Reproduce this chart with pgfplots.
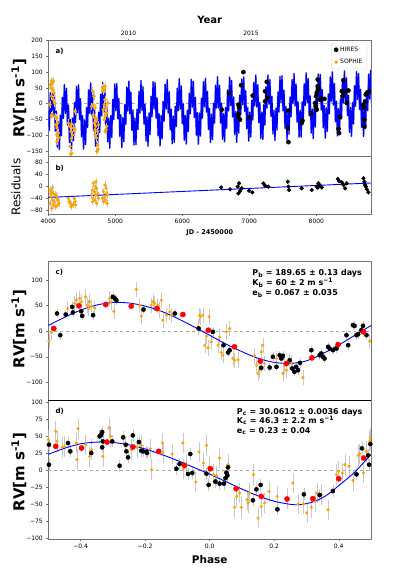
\documentclass[border=0pt]{standalone}
\usepackage{fontspec}
\setmainfont{DejaVu Sans}
\usepackage{pgfplots}
\usepackage{pgfplotstable}
\pgfplotsset{compat=1.18}

\definecolor{mplorange}{HTML}{FFA500}
\definecolor{mplblue}{HTML}{0000FF}
\definecolor{mplred}{HTML}{FF0000}
\definecolor{errgray}{HTML}{C8C8C8}

% two-planet model + trend, sampled at each half period of planet c
\pgfplotstableread{
t v
4000 -22.5
4015 -85.3
4030 34.4
4045 -38.0
4060 60.6
4075 -39.2
4090 32.5
4105 -87.4
4120 -24.0
4135 -138.4
4150 -57.0
4165 -145.4
4180 -36.2
4195 -101.8
4210 19.7
4225 -47.0
4240 60.0
4256 -30.9
4271 48.2
4286 -67.7
4301 -4.7
4316 -123.7
4331 -50.1
4346 -147.5
4361 -46.3
4376 -117.1
4391 3.4
4406 -59.9
4421 54.1
4436 -27.9
4451 59.7
4466 -50.0
4481 15.4
4496 -105.8
4511 -38.1
4526 -144.0
4541 -51.7
4556 -129.6
4571 -12.7
4586 -75.4
4601 43.5
4616 -30.6
4631 66.0
4646 -35.8
4661 34.5
4676 -86.0
4691 -22.1
4706 -135.1
4721 -51.7
4736 -138.0
4752 -27.1
4767 -91.8
4782 29.5
4797 -38.4
4812 66.8
4827 -26.2
4842 51.0
4857 -66.1
4872 -3.2
4887 -121.4
4902 -46.1
4917 -141.4
4932 -38.2
4947 -107.5
4962 13.4
4977 -50.5
4992 62.1
5007 -22.0
5022 63.6
5037 -47.8
5052 16.8
5067 -104.1
5082 -35.3
5097 -139.2
5112 -44.8
5127 -120.8
5142 -2.9
5157 -65.5
5172 52.5
5187 -23.4
5202 71.1
5217 -32.6
5232 36.3
5247 -84.6
5263 -20.0
5278 -131.5
5293 -46.1
5308 -130.3
5323 -17.9
5338 -81.9
5353 39.1
5368 -29.9
5383 73.2
5398 -21.9
5413 53.5
5428 -64.6
5443 -1.7
5458 -118.9
5473 -41.8
5488 -135.0
5503 -29.9
5518 -97.9
5533 23.4
5548 -41.2
5563 69.8
5578 -16.4
5593 67.1
5608 -45.8
5623 18.2
5638 -102.3
5653 -32.1
5668 -134.1
5683 -37.6
5698 -111.9
5713 7.0
5728 -55.6
5743 61.3
5759 -16.4
5774 76.0
5789 -29.7
5804 38.0
5819 -83.1
5834 -17.8
5849 -127.7
5864 -40.2
5879 -122.4
5894 -8.5
5909 -71.9
5924 48.7
5939 -21.9
5954 79.4
5969 -17.9
5984 55.9
5999 -63.1
6014 -0.1
6029 -116.1
6044 -37.2
6059 -128.2
6074 -21.3
6089 -88.1
6104 33.4
6119 -32.1
6134 77.2
6149 -11.1
6164 70.5
6179 -43.9
6194 19.6
6209 -100.3
6224 -28.7
6239 -128.7
6255 -30.1
6270 -102.7
6285 16.9
6300 -45.9
6315 69.8
6330 -9.8
6345 80.5
6360 -26.9
6375 39.6
6390 -81.7
6405 -15.4
6420 -123.5
6435 -33.9
6450 -114.2
6465 1.1
6480 -61.9
6495 58.1
6510 -14.1
6525 85.2
6540 -14.1
6555 58.1
6570 -61.7
6585 1.7
6600 -113.1
6615 -32.3
6630 -121.2
6645 -12.5
6660 -78.3
6675 43.2
6690 -23.2
6705 84.3
6720 -6.0
6735 73.5
6750 -42.1
6766 21.0
6781 -98.2
6796 -25.0
6811 -122.9
6826 -22.3
6841 -93.4
6856 26.9
6871 -36.3
6886 78.1
6901 -3.5
6916 84.7
6931 -24.5
6946 41.1
6961 -80.1
6976 -12.8
6991 -119.1
7006 -27.4
7021 -105.7
7036 10.8
7051 -51.9
7066 67.3
7081 -6.5
7096 90.7
7111 -10.6
7126 60.1
7141 -60.3
7156 3.5
7171 -109.9
7186 -27.0
7201 -113.9
7216 -3.4
7231 -68.4
7246 53.0
7262 -14.6
7277 91.1
7292 -1.3
7307 76.4
7322 -40.4
7337 22.5
7352 -95.9
7367 -21.1
7382 -116.9
7397 -14.3
7412 -83.9
7427 36.9
7442 -26.8
7457 86.1
7472 2.7
7487 88.7
7502 -22.3
7517 42.5
7532 -78.4
7547 -9.9
7562 -114.4
7577 -20.6
7592 -97.1
7607 20.6
7622 -41.9
7637 76.3
7652 0.9
7667 95.9
7682 -7.4
7697 61.9
7712 -58.9
7727 5.5
7742 -106.4
7758 -21.5
7773 -106.3
7788 5.8
7803 -58.4
7818 62.7
7833 -6.1
7848 97.7
7863 3.2
7878 79.0
7893 -38.9
7908 24.0
7923 -93.5
7938 -16.8
7953 -110.6
7968 -6.0
7983 -74.3
7998 46.9
8013 -17.5
8028 93.9
8043 8.4
8058 92.3
8073 -20.2
8088 43.9
8103 -76.7
8118 -6.9
8133 -109.4
8148 -13.4
8163 -88.2
8178 30.5
8193 -32.1
8208 85.1
8223 7.9
8238 100.8
8253 -4.4
8269 63.6
8284 -57.4
8299 7.7
8314 -102.6
8329 -15.7
8344 -98.4
8359 15.2
8374 -48.4
8389 72.3
8404 2.2
8419 103.9
8434 7.3
8449 81.4
8464 -37.4
8479 25.6
8494 -90.8
8509 -12.3
8524 -103.9
8539 2.5
8554 -64.6
8569 56.9
8584 -8.4
8599 101.4
8614 13.8
8629 95.7
8644 -18.3
8659 45.3
8674 -74.8
8689 -3.5
8704 -104.0
8719 -6.0
8734 -79.1
8749 40.4
8765 -22.4
8780 93.7
8795 14.7
8810 105.4
8825 -1.6
}\modeltable

% panel a: HIRES
\pgfplotstableread{
x y
6588 -19
6697 34.1
6836 -3.1
6846 -13.7
6836 -42.5
6861 -51
6876 58.6
6911 100.1
6836 -33
6996 -43.5
7050 25.6
7234 39.5
7259 69.2
7234 7.5
7269 20.3
7583 -22.2
7573 -77.6
7583 -122.3
7782 -61.6
7792 -54.2
7921 -29.7
7981 2.2
7995 23.5
8005 34.1
8020 55.4
8020 76.7
7990 -8.4
8005 -19
8030 45
8055 12.9
8080 16.1
8120 15
8329 -79.7
8339 -93.5
8354 -42.5
8379 39.5
8389 23.5
8403 74.6
8428 37.3
8453 2.2
8478 41.6
8702 -3.1
8717 -13.7
8727 7.5
8737 28.8
8752 34.1
8777 37.3
8717 -51
8717 -72.3
}\aHires

% panel a: SOPHIE
\pgfplotstableread{
x y
4050 73.5
4075 71.4
4040 50
4065 44.8
4085 34.1
4050 23.5
4075 12.9
4025 -3.1
4090 2.2
4060 -35
4100 -40.3
4125 -45.7
4140 -61.6
4115 -67
4130 -77.6
4150 -93.5
4125 -98.9
4140 -104.2
4150 -109.5
4130 -120.1
4045 -38
4030 60
4060 65
4299 -61.6
4349 -64.8
4324 -72.3
4339 -88.2
4398 -82.9
4324 -136.1
4349 -157.4
4334 -160
4398 -24.4
4374 -77.6
4359 -99
4345 -110
4662 39.5
4682 23.5
4672 -3.1
4647 -8.4
4697 -13.7
4672 -35
4697 -45.7
4722 -51
4687 -61.6
4707 -72.3
4697 -82.9
4737 -88.2
4697 -98.9
4722 -109.5
4737 -130.8
4722 -152
4747 -67
4740 -145
4806 50.1
4821 52.2
4836 44.8
4846 55.4
4815 40
4846 12.9
4836 -3.1
4861 -13.7
4821 -19
4871 -29.7
4846 -40.3
4836 -51
4871 -72.3
4861 -82.9
4846 -88.2
4886 2.2
4856 -30
}\aSophie

% panel b: SOPHIE residuals
\pgfplotstableread{
x y
4025 -12.4
4050 -17.9
4075 -23.5
4040 -34.6
4100 -29
4060 -45.7
4090 -51.2
4125 -40.1
4150 -45.7
4025 -56.8
4075 -62.4
4140 -62.4
4110 -67.9
4160 -56.8
4050 -73.5
4035 -25
4065 -5
4120 -30
4299 -40.1
4309 -51.2
4324 -56.8
4349 -62.4
4374 -60.1
4398 -51.2
4389 -40.1
4339 -67.9
4408 -62.4
4672 9.9
4697 -1.2
4657 -12.4
4687 -17.9
4722 -6.8
4647 -29
4707 -29
4737 -23.5
4672 -40.1
4697 -45.7
4747 -40.1
4722 -56.8
4662 -51.2
4710 15
4846 4.3
4861 -6.8
4821 -17.9
4871 -23.5
4836 -34.6
4886 -29
4806 -40.1
4856 -45.7
4876 -56.8
4826 -51.2
}\bSophie

% panel b: HIRES residuals
\pgfplotstableread{
x y
6578 -3.5
6712 -10.1
6826 -1.2
6846 9.9
6861 -15.7
6836 -23.5
6886 -6.8
6995 -14.6
7045 -20.1
7209 9.9
7234 2.1
7284 -1.2
7573 15.4
7582 -1.2
7592 -12.4
7781 -6.8
7931 -12.4
8005 -1.2
8030 9.9
8055 2.1
8080 -3.5
8020 -4.6
8319 24.3
8339 17.6
8379 13.2
8404 4.3
8453 9.9
8428 -6.8
8702 26.5
8717 15.4
8727 4.3
8737 -1.2
8752 -10.1
8776 -20.1
}\bHires

% panel c: SOPHIE, phase folded on planet b
\pgfplotstableread{
x y
-0.498 -19.6
-0.491 -2.6
-0.440 44
-0.418 54
-0.413 60.5
-0.403 63.8
-0.398 57.3
-0.384 67
-0.380 50.7
-0.372 57.3
-0.375 45
-0.356 45
-0.368 48
-0.310 63.8
-0.305 57.3
-0.297 39.0
-0.227 81.3
-0.217 50.7
-0.212 29.3
-0.181 50.7
-0.176 57.3
-0.171 54
-0.161 50.7
-0.155 41
-0.150 60.5
-0.145 21.5
-0.134 31.2
-0.124 37.7
-0.118 31.2
-0.036 8.4
-0.031 31.2
-0.029 28
-0.021 31.2
-0.015 -27.4
-0.010 -9.8
-0.005 -32.6
-0.002 28
0.005 -20.9
0.026 -27.4
0.031 -11.1
0.036 -41.7
0.041 -46.9
0.052 -1.3
0.062 5.2
0.072 -53.4
0.077 -56.7
0.088 -56
0.139 -48.2
0.145 -66.4
0.150 -82.7
0.155 -76.2
0.160 -40.4
0.165 -27.4
0.170 -63.2
0.207 -53.4
0.227 -82.7
0.232 -66.4
0.238 -76.2
0.248 -59.9
0.253 -61.2
0.289 -90.5
0.496 -19.6
}\cSophie

% panel c: HIRES
\pgfplotstableread{
x y
-0.473 34.5
-0.463 -7.8
-0.446 32.5
-0.426 47.5
-0.424 36.4
-0.398 39.0
-0.395 29.9
-0.361 31.2
-0.300 67.0
-0.294 63.8
-0.289 60.5
-0.205 42.3
-0.108 34.5
-0.034 5.2
0.010 -1.3
0.043 -27.4
0.057 -41.7
0.062 -37.1
0.160 -71.6
0.186 -71
0.196 -50
0.207 -69.7
0.217 -46.9
0.222 -53.4
0.227 -48.2
0.248 -56.7
0.256 -72.9
0.263 -79.4
0.268 -69.7
0.274 -76.2
0.280 -62
0.315 -37.1
0.341 -46.9
0.346 -43.6
0.351 -50.2
0.356 -53.4
0.367 -30.6
0.372 -33.9
0.382 -37.1
0.393 -33.9
0.424 -7.8
0.429 -27.4
0.444 11.7
0.449 10.4
0.455 -7.8
0.460 -5.9
0.470 1.9
0.475 10.4
0.486 -7.8
}\cHires

% panel d: SOPHIE, phase folded on planet c
\pgfplotstableread{
x y
-0.500 44.5
-0.477 56.8
-0.473 42.1
-0.457 33.3
-0.450 34.8
-0.413 39.7
-0.411 15.2
-0.408 60.7
-0.384 37.2
-0.372 20.1
-0.366 29.9
-0.331 20.1
-0.312 61.7
-0.307 49.5
-0.243 29.9
-0.225 33.3
-0.212 36.3
-0.184 31.3
-0.180 0.5
-0.147 39.7
-0.145 25
-0.116 23.5
-0.083 39.7
-0.081 1.9
-0.072 7.8
-0.043 -17.7
-0.033 26.4
-0.019 10.3
-0.010 36.3
-0.002 3.9
0.012 -6.9
0.021 -8.4
0.031 17.6
0.057 7.8
0.077 -54.9
0.084 -38.8
0.093 -33.9
0.098 -54.9
0.116 -43.7
0.119 -48.6
0.124 -33.9
0.136 -6.9
0.150 -70.6
0.160 -53.5
0.170 -48.6
0.184 -31.4
0.209 -38.8
0.240 -42.2
0.258 -19.2
0.274 -50
0.291 -50
0.301 -63.3
0.315 -54.9
0.326 -46.1
0.333 -33.9
0.346 -36.3
0.367 -58.4
0.393 -6.9
0.400 -2
0.411 -4.4
0.419 7.8
0.432 5.4
0.444 -15.7
0.460 21.5
0.465 23.5
0.477 -4.4
0.486 27.4
0.496 42.1
0.498 47
}\dSophie

% panel d: HIRES
\pgfplotstableread{
x y
-0.498 37.2
-0.498 7.8
-0.439 39.7
-0.432 27.4
-0.367 25
-0.341 49.5
-0.336 51.9
-0.333 55.8
-0.333 33.3
-0.331 42.1
-0.302 42.1
-0.279 6.3
-0.268 48
-0.260 37.2
-0.258 27.4
-0.253 18.6
-0.238 50.9
-0.219 41.1
-0.212 28.4
-0.207 27.4
-0.196 26.4
-0.194 25
-0.103 1.9
-0.093 8.8
-0.060 23.5
-0.067 -5.9
-0.054 -4.4
-0.010 -5.4
-0.003 -22
0.018 -17
0.031 -20
0.044 -20
0.049 -12
0.052 -4
0.057 4
0.055 -8
0.134 -44.6
0.145 -28.5
0.158 -22
0.210 -57.9
0.292 -35.8
0.341 -36.8
0.382 -30.9
0.455 -6.4
0.472 31.8
0.491 21.5
0.494 7.8
0.498 38.2
}\dHires

\pgfplotsset{
  rvax/.style={
    scale only axis, width=322.7pt, anchor=north west,
    axis line style={black!55, line width=0.5pt},
    tick style={black!55, line width=0.4pt},
    tick align=outside, major tick length=2pt,
    xtick pos=left, ytick pos=left,
    ticklabel style={font=\fontsize{6}{7}\selectfont},
    /pgf/number format/assume math mode=true,
    clip=true,
  },
  % grey error bars, drawn on their own beneath the marks
  errbars/.style={only marks, mark=*, mark size=0.01pt, color=errgray, forget plot,
    /pgfplots/error bars/y dir=both,
    /pgfplots/error bars/y fixed=#1,
    /pgfplots/error bars/error mark=none,
    /pgfplots/error bars/error bar style={draw=errgray, line width=0.55pt}},
  sophie/.style={only marks, mark=*, color=mplorange, mark size=#1},
  hires/.style={only marks, mark=*, color=black, mark size=#1},
  binned/.style={only marks, mark=*, color=mplred, mark size=2.6pt},
}
\tikzset{panellabel/.style={font=\bfseries\fontsize{7}{8}\selectfont, anchor=north west, inner sep=0pt}}

\begin{document}
\begin{tikzpicture}
\path[use as bounding box] (0pt,0pt) rectangle (399pt,-580pt);

% ---------------- panel a ----------------
\begin{axis}[rvax, name=pa, at={(48.3pt,-40.7pt)}, height=115.5pt,
  xmin=4000, xmax=8815, ymin=-167, ymax=200,
  xtick={5197.5,7023.5}, xticklabels={2010,2015},
  xtick pos=right, xticklabel pos=right,
  ytick={-150,-100,-50,0,50,100,150,200},
  yticklabels={−150,−100,−50,0,50,100,150,200},
  legend style={at={(rel axis cs:0.988,0.982)}, anchor=north east,
    font=\fontsize{6}{7}\selectfont, draw=gray!35, rounded corners=1.5pt,
    inner xsep=2.5pt, inner ysep=1.8pt, row sep=2.5pt, cells={anchor=west}},
  legend cell align=left,
]
\addplot[gray!70, dashed, line width=0.6pt, forget plot] coordinates {(4000,0) (8815,0)};
\addplot[gray!35, line width=2.0pt, line join=round, forget plot] table[x=t, y=v] {\modeltable};
\addplot[mplblue, line width=1.25pt, line join=round, forget plot] table[x=t, y=v] {\modeltable};
\addplot[errbars=12] table {\aSophie};
\addplot[errbars=6] table {\aHires};
\addplot[hires=2.1pt] table {\aHires};
\addlegendentry{HIRES}
\addplot[sophie=1.6pt] table {\aSophie};
\addlegendentry{SOPHIE}
\node[panellabel] at (rel axis cs:0.022,0.937) {a)};
\end{axis}

% ---------------- panel b ----------------
\begin{axis}[rvax, name=pb, at={(48.3pt,-156.5pt)}, height=57.5pt,
  xmin=4000, xmax=8815, ymin=-92, ymax=99,
  xtick={4000,5000,6000,7000,8000},
  xticklabels={4000,5000,6000,7000,8000},
  ytick={-80,-40,0,40,80},
  yticklabels={−80,−40,0,40,80},
]
\addplot[errbars=12] table {\bSophie};
\addplot[errbars=5] table {\bHires};
\addplot[sophie=1.5pt] table {\bSophie};
\addplot[hires=1.9pt] table {\bHires};
\addplot[mplblue, line width=0.9pt] coordinates {(4000,-37) (8815,11)};
\node[panellabel] at (rel axis cs:0.022,0.85) {b)};
\end{axis}

% ---------------- panel c ----------------
\begin{axis}[rvax, name=pc, at={(48.3pt,-261pt)}, height=139.3pt,
  xmin=-0.5, xmax=0.5, ymin=-135, ymax=137,
  xtick=\empty,
  ytick={-100,-50,0,50,100},
  yticklabels={−100,−50,0,50,100},
]
\addplot[gray!70, dashed, line width=0.6pt] coordinates {(-0.5,0) (0.5,0)};
\addplot[errbars=15] table {\cSophie};
\addplot[errbars=9] table {\cHires};
\addplot[sophie=1.4pt] table {\cSophie};
\addplot[hires=2.1pt] table {\cHires};
\addplot[mplblue, line width=0.9pt, smooth] coordinates {
(-0.50,11) (-0.45,27) (-0.40,41) (-0.35,51) (-0.30,56) (-0.25,55) (-0.20,49) (-0.15,39)
(-0.10,25) (-0.05,9) (0.00,-8) (0.05,-25) (0.10,-40) (0.15,-53) (0.20,-61) (0.25,-63)
(0.30,-58) (0.35,-44) (0.40,-27) (0.45,-8) (0.50,11)
};
\addplot[binned] coordinates {
(-0.483,5.2) (-0.405,49.4) (-0.322,52) (-0.243,48.8) (-0.163,44.2) (-0.083,32.5)
(-0.004,1.9) (0.077,-30.6) (0.157,-58.6) (0.238,-63.2) (0.317,-52.1) (0.398,-26.1) (0.477,-1.3)
};
\node[panellabel] at (rel axis cs:0.022,0.943) {c)};
\node[anchor=north west, align=left, inner sep=0pt,
  font=\bfseries\fontsize{8}{10.3}\selectfont] at (rel axis cs:0.632,0.942)
  {P\textsubscript{b} = 189.65 ± 0.13 days\\K\textsubscript{b} = 60 ± 2 m s\textsuperscript{−1}\\e\textsubscript{b} = 0.067 ± 0.035};
\end{axis}

% ---------------- panel d ----------------
\begin{axis}[rvax, name=pd, at={(48.3pt,-400.3pt)}, height=138.7pt,
  xmin=-0.5, xmax=0.5, ymin=-101.5, ymax=102.5,
  xtick={-0.4,-0.2,0,0.2,0.4},
  xticklabels={−0.4,−0.2,0.0,0.2,0.4},
  ytick={-100,-75,-50,-25,0,25,50,75,100},
  yticklabels={−100,−75,−50,−25,0,25,50,75,100},
]
\addplot[gray!70, dashed, line width=0.6pt] coordinates {(-0.5,0) (0.5,0)};
\addplot[errbars=15] table {\dSophie};
\addplot[errbars=9] table {\dHires};
\addplot[sophie=1.4pt] table {\dSophie};
\addplot[hires=2.1pt] table {\dHires};
\addplot[mplblue, line width=0.9pt, smooth] coordinates {
(-0.50,23) (-0.45,32) (-0.40,38.5) (-0.35,41) (-0.30,40.5) (-0.25,37) (-0.20,31)
(-0.15,23) (-0.10,14) (-0.05,4) (0.00,-6) (0.05,-17) (0.10,-28) (0.15,-38) (0.20,-46)
(0.25,-50.5) (0.28,-51) (0.32,-47) (0.36,-38) (0.40,-23) (0.45,-3) (0.50,23)
};
\addplot[binned] coordinates {
(-0.477,34.8) (-0.397,32.3) (-0.318,41.1) (-0.238,33.8) (-0.158,27.4) (-0.078,6.8)
(0.002,1.9) (0.082,-27.5) (0.160,-38.8) (0.240,-42.7) (0.320,-42.2) (0.400,-12.8) (0.477,17.6)
};
\node[panellabel] at (rel axis cs:0.022,0.942) {d)};
\node[anchor=north west, align=left, inner sep=0pt,
  font=\bfseries\fontsize{8}{9.4}\selectfont] at (rel axis cs:0.584,0.944)
  {P\textsubscript{c} = 30.0612 ± 0.0036 days\\K\textsubscript{c} = 46.3 ± 2.2 m s\textsuperscript{−1}\\e\textsubscript{c} = 0.23 ± 0.04};
\end{axis}

\draw[black, line width=0.9pt] (pc.south west) -- (pc.south east);

% axis titles
\node[font=\bfseries\fontsize{10}{10}\selectfont] at (209.7pt,-20pt) {Year};
\node[font=\bfseries\fontsize{6.5}{7}\selectfont] at (209.7pt,-232.5pt) {JD - 2450000};
\node[font=\bfseries\fontsize{10.5}{11}\selectfont] at (209.7pt,-560pt) {Phase};
\node[rotate=90, font=\bfseries\fontsize{15}{15}\selectfont] at (19pt,-98.5pt) {RV[m s\textsuperscript{-1}]};
\node[rotate=90, font=\fontsize{12}{12}\selectfont] at (16pt,-187pt) {Residuals};
\node[rotate=90, font=\bfseries\fontsize{15}{15}\selectfont] at (19pt,-329pt) {RV[m s\textsuperscript{-1}]};
\node[rotate=90, font=\bfseries\fontsize{15}{15}\selectfont] at (19pt,-472pt) {RV[m s\textsuperscript{-1}]};
\end{tikzpicture}
\end{document}
